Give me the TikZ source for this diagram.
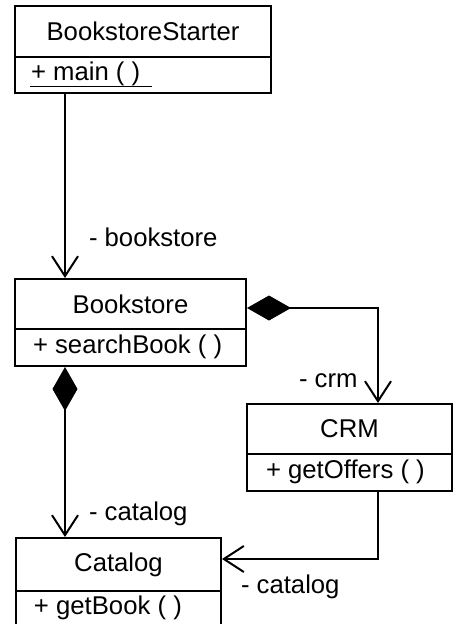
\documentclass[tikz,border=0pt]{standalone}
\usepackage{fontspec}
\setmainfont{Liberation Sans}
\usetikzlibrary{arrows.meta}
\begin{document}
\begin{tikzpicture}[x=1pt, y=-1pt, line width=2pt,
  lbl/.style={font=\fontsize{25.7}{30}\selectfont, inner sep=0pt},
  namebox/.style={draw, rectangle, inner sep=0pt, lbl},
  opbox/.style={draw, rectangle, inner sep=0pt},
  optext/.style={lbl, anchor=west},
  assoc/.style={-{Straight Barb[length=20pt, width=26pt]}, line join=miter},
  compo/.style={{Diamond[length=44pt, width=25pt]}-{Straight Barb[length=20pt, width=26pt]}}]
\useasboundingbox (0,0) rectangle (454,624);

% BookstoreStarter
\node[namebox, minimum width=256pt, minimum height=51pt] (bs) at (143,31.5) {BookstoreStarter};
\node[opbox, minimum width=256pt, minimum height=36pt] (bsOp) at (143,75) {};
\node[optext] (bsTxt) at (30,74) {+ main ( )};
\draw[line width=1.4pt] (30,86.5) -- (152,86.5);

% Bookstore
\node[namebox, minimum width=231pt, minimum height=50pt] (bk) at (130.5,304) {Bookstore};
\node[opbox, minimum width=231pt, minimum height=37pt] (bkOp) at (130.5,347.5) {};
\node[optext] (bkTxt) at (32,347) {+ searchBook ( )};

% CRM
\node[namebox, minimum width=205pt, minimum height=50pt] (crm) at (349.5,429) {CRM};
\node[opbox, minimum width=205pt, minimum height=37pt] (crmOp) at (349.5,472.5) {};
\node[optext] (crmTxt) at (265,472) {+ getOffers ( )};

% Catalog
\node[namebox, minimum width=205pt, minimum height=53pt] (cat) at (118.5,564.5) {Catalog};
\node[opbox, minimum width=205pt, minimum height=37pt] (catOp) at (118.5,609.5) {};
\node[optext] (catTxt) at (33,608) {+ getBook ( )};

% Associations
\draw[assoc] ([xshift=51pt]bsOp.south west) -- ([xshift=51pt]bk.north west);
\draw[compo] ([yshift=-4pt]bk.east) -| ([xshift=132pt]crm.north west);
\draw[compo] ([xshift=51pt]bkOp.south west) -- ([xshift=50pt]cat.north west);
\draw[assoc] ([xshift=132pt]crmOp.south west) |- ([yshift=5.5pt]cat.east);

% Role names
\node[optext] (rBookstore) at (88,237) {- bookstore};
\node[optext] (rCrm) at (298,381) {- crm};
\node[optext] (rCat1) at (88,514) {- catalog};
\node[optext] (rCat2) at (240,587) {- catalog};
\end{tikzpicture}
\end{document}
